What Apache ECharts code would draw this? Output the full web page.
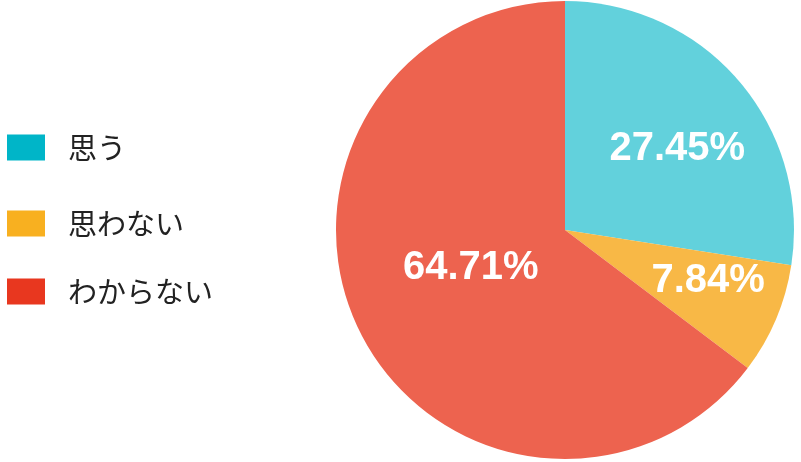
<!DOCTYPE html>
<html>
<head>
<meta charset="utf-8">
<script src="https://cdn.jsdelivr.net/npm/echarts@6/dist/echarts.min.js"></script>
<style>
  html, body { margin: 0; padding: 0; background: #fff; }
  #chart { width: 801px; height: 462px; }
</style>
</head>
<body>
<div id="chart"></div>
<script>
// データ
const categories = ['思う', '思わない', 'わからない']
const values = [14, 4, 33]
const percentLabels = ['27.45%', '7.84%', '64.71%']

const sliceColors = ['#62d1dc', '#f8b846', '#ed634f']
const legendColors = ['#00b5c8', '#f8b020', '#e8371f']
const legendTops = [133, 209, 277]
const labelOffsets = [[23, -5], [35, 5], [11, -14]]

let myChart = echarts.init(document.getElementById('chart'))

myChart.setOption({
  animation: false,
  legend: categories.map(function (name, i) {
    return {
      left: 7,
      top: legendTops[i],
      padding: 0,
      icon: 'rect',
      itemWidth: 38,
      itemHeight: 26,
      data: [{ name: name, itemStyle: { color: legendColors[i] } }],
      textStyle: {
        fontFamily: 'Noto Sans CJK JP',
        fontSize: 29,
        color: '#222',
        padding: [0, 0, 0, 18]
      },
      selectedMode: false
    }
  }),
  series: [
    {
      type: 'pie',
      center: [565, 230],
      radius: [0, 229],
      startAngle: 90,
      clockwise: true,
      label: {
        show: true,
        position: 'inside',
        color: '#fff',
        fontFamily: 'Liberation Sans',
        fontWeight: 'bold',
        fontSize: 40
      },
      labelLine: { show: false },
      emphasis: { disabled: true },
      data: categories.map(function (name, i) {
        return {
          name: name,
          value: values[i],
          itemStyle: { color: sliceColors[i] },
          label: { formatter: percentLabels[i], offset: labelOffsets[i] }
        }
      })
    }
  ]
})
</script>
</body>
</html>
